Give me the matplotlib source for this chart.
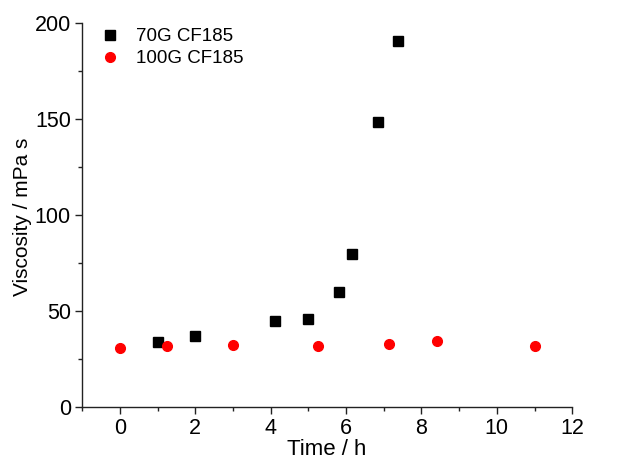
import matplotlib
matplotlib.use("Agg")
import matplotlib.pyplot as plt
from matplotlib.ticker import MultipleLocator

plt.rcParams['font.family'] = ['Liberation Sans', 'DejaVu Sans']

# 70G CF185
t_70 = [1.0, 2.0, 4.12, 5.0, 5.81, 6.16, 6.84, 7.39]
v_70 = [34.0, 36.9, 44.7, 45.9, 59.8, 79.4, 148.5, 190.3]

# 100G CF185
t_100 = [0.0, 1.26, 3.0, 5.26, 7.14, 8.42, 11.0]
v_100 = [30.8, 31.7, 32.4, 32.0, 32.9, 34.6, 31.5]

fig = plt.figure(figsize=(6.22, 4.59), dpi=100)
ax = fig.add_axes([0.132, 0.1133, 0.788, 0.837])

ax.plot(t_70, v_70, ls='none', marker='s', ms=6.5, color='black', label='70G CF185')
ax.plot(t_100, v_100, ls='none', marker='o', ms=7, color='#ff0000', label='100G CF185')

ax.set_xlim(-1, 12)
ax.set_ylim(0, 200)
ax.xaxis.set_major_locator(MultipleLocator(2))
ax.xaxis.set_minor_locator(MultipleLocator(1))
ax.yaxis.set_major_locator(MultipleLocator(50))
ax.yaxis.set_minor_locator(MultipleLocator(25))

for s in ['top', 'right']:
    ax.spines[s].set_visible(False)
for s in ['left', 'bottom']:
    ax.spines[s].set_linewidth(1.0)
    ax.spines[s].set_color('#222222')

ax.tick_params(which='major', direction='out', length=5, width=1, labelsize=15.5,
               color='#222222', pad=3)
ax.tick_params(which='minor', direction='out', length=3, width=1, color='#222222')

ax.set_xlabel('Time / h', fontsize=16, labelpad=0)
ax.set_ylabel('Viscosity / mPa s', fontsize=15)
ax.yaxis.set_label_coords(-0.102, 0.495)

ax.legend(loc='upper left', bbox_to_anchor=(0.0, 1.02), frameon=False, fontsize=13.5,
          handletextpad=0.6, labelspacing=0.25, handlelength=1.6, borderaxespad=0.3)

fig.savefig('out.png', dpi=100)
